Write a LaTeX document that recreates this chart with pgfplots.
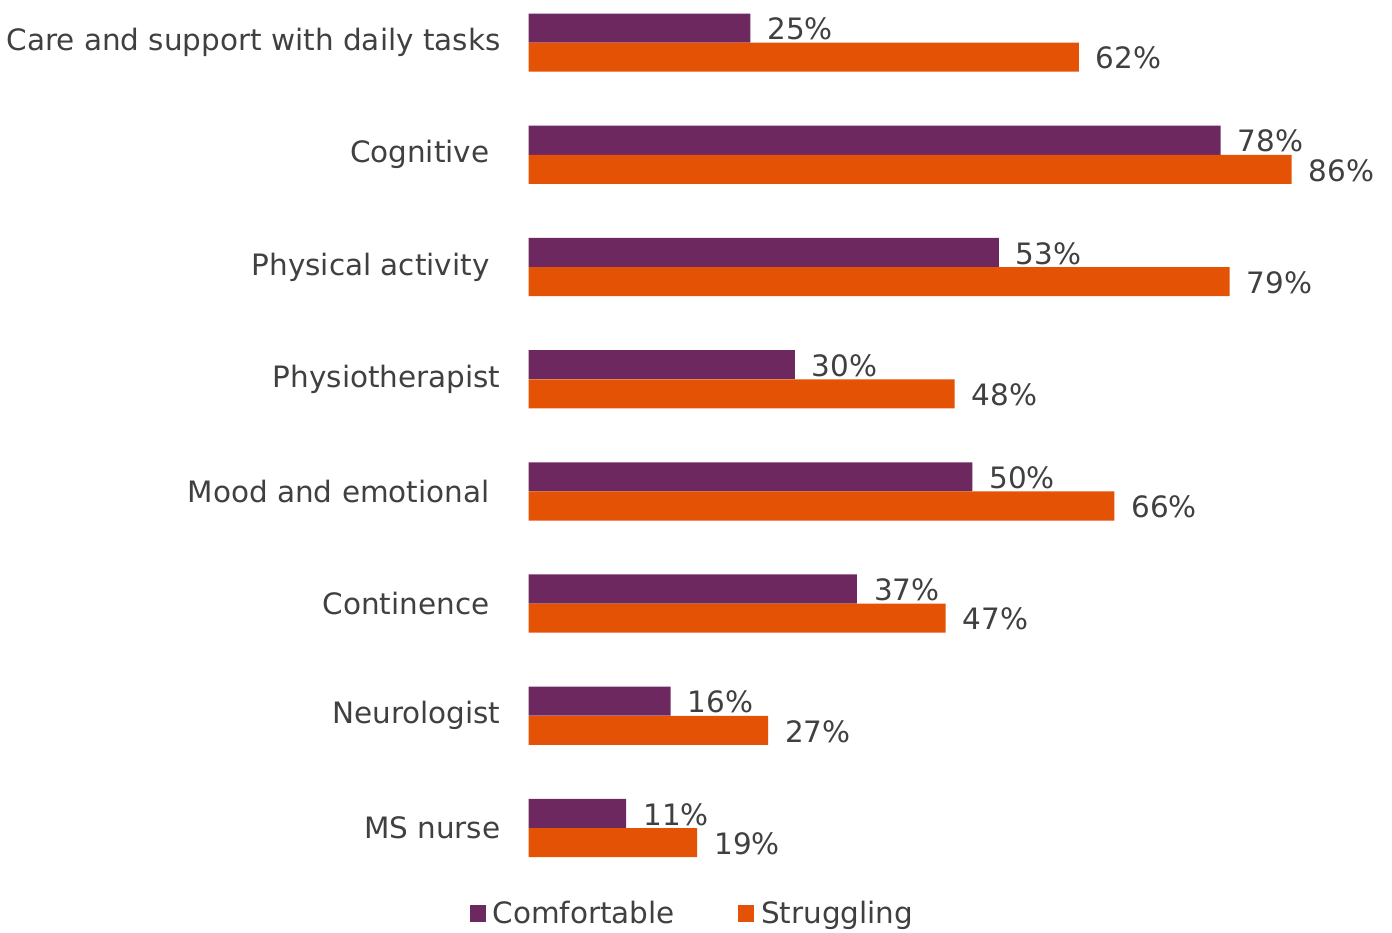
\documentclass[border=0pt]{standalone}
\usepackage{pgfplots}
\pgfplotsset{compat=1.18}
\usepackage{fontspec}
\setmainfont{DejaVu Sans}
\definecolor{comf}{RGB}{109,40,95}
\definecolor{strug}{RGB}{227,82,5}
\definecolor{txt}{RGB}{64,64,64}
\newcommand{\lblfont}{\fontsize{14.7}{17}\selectfont}

\begin{document}
\begin{tikzpicture}
\begin{axis}[
  xbar, bar shift=0pt,
  width=431pt, height=435.7pt, scale only axis,
  xmin=0, xmax=97.3, ymin=-0.4, ymax=7.38,
  axis lines=none,
  bar width=0.259,
  /pgf/number format/assume math mode=true,
  nodes near coords={\pgfmathprintnumber{\pgfplotspointmeta}\%},
  every node near coord/.append style={font=\lblfont, text=txt, xshift=5pt, yshift=-0.5pt},
  legend style={at={(0.1926,-0.0466)}, anchor=center, draw=none, legend columns=2,
    font=\lblfont, text=txt, inner sep=1pt, nodes={inner xsep=3.5pt},
    /tikz/every even column/.append style={column sep=28pt}},
  legend image code/.code={\fill[#1] (0pt,-4pt) rectangle (8pt,4pt);},
  clip=false,
]
\addplot[fill=comf, draw=none] coordinates {(25,7.13) (78,6.13) (53,5.13) (30,4.13) (50,3.13) (37,2.13) (16,1.13) (11,0.13)};
\addplot[fill=strug, draw=none] coordinates {(62,6.87) (86,5.87) (79,4.87) (48,3.87) (66,2.87) (47,1.87) (27,0.87) (19,-0.13)};
\legend{Comfortable, Struggling}
% category labels (some sit further from the bars, as in the original)
\foreach \lab/\sh [count=\i from 0] in {MS nurse/10.5, Neurologist/10.5, Continence/16, Mood and emotional/16, Physiotherapist/10.5, Physical activity/16, Cognitive/16, Care and support with daily tasks/10.5} {
  \edef\temp{\noexpand\node[anchor=east, font=\noexpand\lblfont, text=txt] at (axis cs:0,\i) [xshift=-\sh pt] {\lab};}
  \temp
}
\path (rel axis cs:0,0) (rel axis cs:1,1);
\end{axis}
\end{tikzpicture}
\end{document}
